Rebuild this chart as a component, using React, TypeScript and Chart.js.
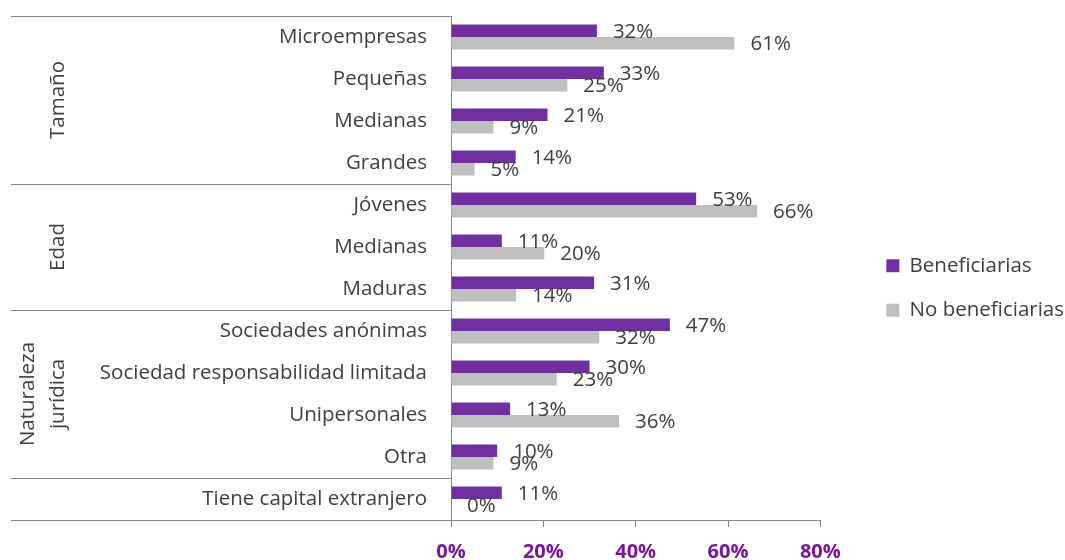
import React, { useEffect, useRef } from "react";
import { Chart, registerables } from "chart.js";

Chart.register(...registerables);

const categories = [
  "Microempresas",
  "Pequeñas",
  "Medianas",
  "Grandes",
  "Jóvenes",
  "Medianas",
  "Maduras",
  "Sociedades anónimas",
  "Sociedad responsabilidad limitada",
  "Unipersonales",
  "Otra",
  "Tiene capital extranjero",
];

const beneficiarias = [31.6, 33.1, 20.9, 14.0, 53.1, 11.0, 31.0, 47.4, 30.0, 12.8, 10.0, 11.0];
const noBeneficiarias = [61.4, 25.2, 9.2, 5.1, 66.3, 20.2, 14.1, 32.1, 22.9, 36.4, 9.2, 0];

const seriesNames = ["Beneficiarias", "No beneficiarias"];

const groupLabels = [["Tamaño"], ["Edad"], ["Naturaleza", "jurídica"], []];
const groupSizes = [4, 3, 4, 1];

const xTickValues = [0, 20, 40, 60, 80];

const FONT = "'Open Sans', sans-serif";
const FS = 20.5;
const TEXT = "#404040";
const LINE = "#868686";
const PURPLE = "#7030A0";
const GRAY = "#BFBFBF";
const TICK_PURPLE = "#7D139F";

const groupPlugin = {
  id: "groupPlugin",
  afterLayout(chart: any) {
    const lg = chart.legend;
    if (lg) {
      lg.left += 9;
      lg.right += 9;
    }
  },
  afterDraw(chart: any) {
    const ctx = chart.ctx;
    const y = chart.scales.y;
    const step = y.getPixelForValue(1) - y.getPixelForValue(0);
    const boundary = (i: number) => y.getPixelForValue(i) - step / 2;
    ctx.save();
    ctx.strokeStyle = LINE;
    ctx.lineWidth = 1;
    let idx = 0;
    const bounds = [0];
    groupSizes.forEach((s) => {
      idx += s;
      bounds.push(idx);
    });
    bounds.forEach((b) => {
      const py = Math.round(boundary(b)) + 0.5;
      ctx.beginPath();
      ctx.moveTo(11, py);
      ctx.lineTo(y.right, py);
      ctx.stroke();
    });
    ctx.fillStyle = TEXT;
    ctx.font = `${FS}px ${FONT}`;
    ctx.textAlign = "center";
    ctx.textBaseline = "middle";
    groupLabels.forEach((lines, g) => {
      if (!lines.length) return;
      const cy = (boundary(bounds[g]) + boundary(bounds[g + 1])) / 2;
      lines.forEach((line, i) => {
        const cx = 58 - 30 * (lines.length - 1 - i);
        ctx.save();
        ctx.translate(cx, cy);
        ctx.rotate(-Math.PI / 2);
        ctx.fillText(line, 0, 0);
        ctx.restore();
      });
    });
    ctx.restore();
  },
  afterDatasetsDraw(chart: any) {
    const ctx = chart.ctx;
    ctx.save();
    ctx.fillStyle = TEXT;
    ctx.font = `${FS}px ${FONT}`;
    ctx.textAlign = "left";
    ctx.textBaseline = "middle";
    chart.data.datasets.forEach((ds: any, i: number) => {
      const meta = chart.getDatasetMeta(i);
      meta.data.forEach((bar: any, j: number) => {
        const v = ds.data[j];
        ctx.fillText(`${Math.round(v)}%`, bar.x + 16, bar.y + 1);
      });
    });
    ctx.restore();
  },
};

export default function App() {
  const ref = useRef<HTMLCanvasElement>(null);
  useEffect(() => {
    if (!ref.current) return;
    Chart.defaults.font.family = FONT;
    const chart = new Chart(ref.current, {
      type: "bar",
      data: {
        labels: categories,
        datasets: [
          {
            label: seriesNames[0],
            data: beneficiarias,
            backgroundColor: PURPLE,
            borderWidth: 0,
            categoryPercentage: 0.6,
            barPercentage: 1,
          },
          {
            label: seriesNames[1],
            data: noBeneficiarias,
            backgroundColor: GRAY,
            borderWidth: 0,
            categoryPercentage: 0.6,
            barPercentage: 1,
          },
        ],
      },
      options: {
        indexAxis: "y",
        responsive: false,
        animation: false,
        layout: { padding: { top: 16, left: 0, right: 0, bottom: 0 } },
        scales: {
          x: {
            type: "linear",
            min: 0,
            max: 80,
            afterBuildTicks: (s: any) => {
              s.ticks = xTickValues.map((v) => ({ value: v }));
            },
            ticks: {
              callback: (v: any) => `${v}%`,
              color: TICK_PURPLE,
              font: { family: FONT, size: 20, weight: "bold" },
              padding: 13,
            },
            grid: { drawOnChartArea: false, drawTicks: true, tickLength: 7, color: LINE },
            border: { display: true, color: LINE },
            afterFit: (s: any) => {
              s.height = 40;
            },
          },
          y: {
            type: "category",
            position: "left",
            grid: { display: false, drawTicks: false },
            border: { display: true, color: LINE },
            ticks: {
              color: TEXT,
              font: { family: FONT, size: FS },
              padding: 24,
              autoSkip: false,
            },
            afterFit: (s: any) => {
              s.width = 451;
              s.paddingTop = 0;
              s.paddingBottom = 0;
            },
          },
          y2: {
            type: "linear",
            position: "right",
            display: true,
            grid: { display: false, drawTicks: false },
            border: { display: false },
            ticks: { display: false },
            afterFit: (s: any) => {
              s.width = 33;
              s.paddingTop = 0;
              s.paddingBottom = 0;
            },
          },
        },
        plugins: {
          legend: {
            position: "right",
            align: "center",
            maxWidth: 300,
            labels: {
              boxWidth: 13,
              boxHeight: 13,
              padding: 24,
              color: TEXT,
              font: { family: FONT, size: FS },
            },
          },
          tooltip: { enabled: false },
        },
      },
      plugins: [groupPlugin],
    } as any);
    return () => chart.destroy();
  }, []);
  return (
    <div style={{ position: "fixed", left: 0, top: 0, width: 1065, height: 560, background: "#fff" }}>
      <canvas ref={ref} width={1065} height={560} style={{ display: "block" }} />
    </div>
  );
}
